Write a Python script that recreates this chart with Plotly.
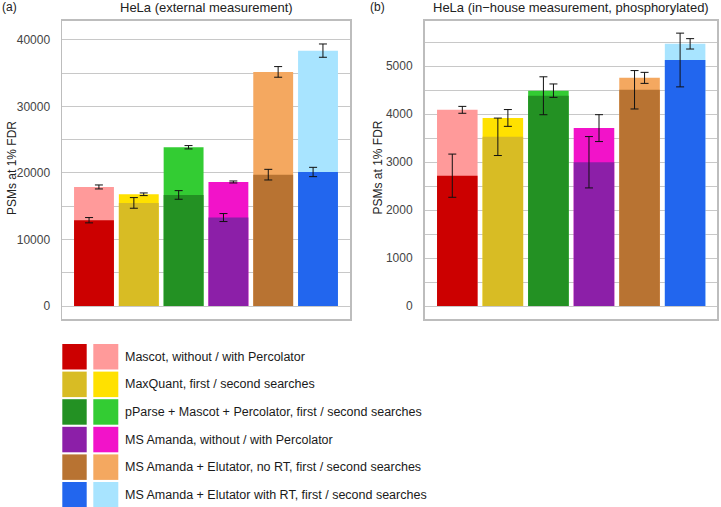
import plotly.graph_objects as go

W, H = 721, 507

methods = ["Mascot", "MaxQuant", "pParse", "MS Amanda", "Elutator noRT", "Elutator RT"]
legend_labels = [
    "Mascot, without / with Percolator",
    "MaxQuant, first / second searches",
    "pParse + Mascot + Percolator, first / second searches",
    "MS Amanda, without / with Percolator",
    "MS Amanda + Elutator, no RT, first / second searches",
    "MS Amanda + Elutator with RT, first / second searches",
]
dark_colors = ["#CC0000", "#D8BC24", "#239123", "#8C1FA8", "#B87332", "#2266EE"]
light_colors = ["#FF9A9A", "#FFE100", "#33CC33", "#F213C9", "#F4A860", "#A8E4FF"]

# Panel (a): HeLa external measurement
a_first = [12900, 15500, 16700, 13300, 19750, 20150]
a_first_err = [400, 800, 650, 600, 800, 700]
a_second = [17900, 16800, 23870, 18650, 35200, 38400]
a_second_err = [300, 200, 250, 150, 800, 1000]

# Panel (b): HeLa in-house, phosphorylated
b_first = [2715, 3525, 4380, 2995, 4505, 5125]
b_first_err = [450, 390, 395, 535, 400, 560]
b_second = [4087, 3918, 4486, 3706, 4753, 5462]
b_second_err = [72, 175, 140, 280, 115, 108]

a_ticks = [0, 10000, 20000, 30000, 40000]
b_ticks = [0, 1000, 2000, 3000, 4000, 5000]

titles = ["HeLa (external measurement)", "HeLa (in\u2212house measurement, phosphorylated)"]
panel_tags = ["(a)", "(b)"]
yaxis_title = "PSMs at 1% FDR"

fig = go.Figure()
xs = list(range(len(methods)))
off = 0.11
bw = 0.89

panels = [
    (a_first, a_first_err, a_second, a_second_err, "x", "y"),
    (b_first, b_first_err, b_second, b_second_err, "x2", "y2"),
]
for first, ferr, second, serr, xa, ya in panels:
    fig.add_trace(go.Bar(x=xs, y=second, width=bw, marker=dict(color=light_colors, line=dict(width=0)),
                         xaxis=xa, yaxis=ya, showlegend=False, hoverinfo="skip"))
    fig.add_trace(go.Bar(x=xs, y=first, width=bw, marker=dict(color=dark_colors, line=dict(width=0)),
                         xaxis=xa, yaxis=ya, showlegend=False, hoverinfo="skip"))
    fig.add_trace(go.Scatter(x=[v - off for v in xs], y=first, mode="markers",
                             marker=dict(size=0.1, color="rgba(0,0,0,0)"),
                             error_y=dict(type="data", array=ferr, color="#111111", thickness=1, width=4),
                             xaxis=xa, yaxis=ya, showlegend=False, hoverinfo="skip"))
    fig.add_trace(go.Scatter(x=[v + off for v in xs], y=second, mode="markers",
                             marker=dict(size=0.1, color="rgba(0,0,0,0)"),
                             error_y=dict(type="data", array=serr, color="#111111", thickness=1, width=4),
                             xaxis=xa, yaxis=ya, showlegend=False, hoverinfo="skip"))

frame_col = "#BDBDBD"
grid_col = "#C8C8C8"
tick_font = dict(family="Liberation Sans, Arial, sans-serif", size=12, color="#444444")

xcommon = dict(showticklabels=False, showgrid=False, zeroline=False, showline=True, mirror=True,
               linecolor=frame_col, linewidth=1.5, ticks="", fixedrange=True, automargin=False)
ycommon = dict(showgrid=True, gridcolor=grid_col, gridwidth=1, zeroline=False, showline=True, mirror=True,
               linecolor=frame_col, linewidth=1.5, ticks="", tickfont=tick_font, ticklabelstandoff=8,
               tickformat="d", automargin=False)

y0 = 1 - 319.3 / H
y1 = 1 - 20.7 / H
fig.update_layout(
    width=W, height=H, margin=dict(l=0, r=0, t=0, b=0, autoexpand=False),
    paper_bgcolor="white", plot_bgcolor="white", barmode="overlay",
    xaxis=dict(domain=[62 / W, 350 / W], range=[-0.714, 5.714], anchor="y", **xcommon),
    xaxis2=dict(domain=[424.5 / W, 717 / W], range=[-0.72, 5.70], anchor="y2", **xcommon),
    yaxis=dict(domain=[y0, y1], range=[-2000, 42900], tickvals=a_ticks, anchor="x",
               minor=dict(dtick=5000, tick0=0, showgrid=True, gridcolor=grid_col, gridwidth=1), **ycommon),
    yaxis2=dict(domain=[y0, y1], range=[-277, 5944], tickvals=b_ticks, anchor="x2",
                minor=dict(dtick=500, tick0=0, showgrid=True, gridcolor=grid_col, gridwidth=1), **ycommon),
    font=dict(family="Liberation Sans, Arial, sans-serif", size=12, color="#222222"),
)

txt_font = dict(family="Liberation Sans, Arial, sans-serif", size=12, color="#222222")
title_font = dict(family="Liberation Sans, Arial, sans-serif", size=13, color="#222222")
ann = []
ann.append(dict(x=206 / W, y=1 - 8 / H, xref="paper", yref="paper", text=titles[0], showarrow=False,
                xanchor="center", yanchor="middle", font=title_font))
ann.append(dict(x=571 / W, y=1 - 8 / H, xref="paper", yref="paper", text=titles[1], showarrow=False,
                xanchor="center", yanchor="middle", font=title_font))
ann.append(dict(x=0 / W, y=1 - 7 / H, xref="paper", yref="paper", text=panel_tags[0], showarrow=False,
                xanchor="left", yanchor="middle", font=txt_font))
ann.append(dict(x=368 / W, y=1 - 7 / H, xref="paper", yref="paper", text=panel_tags[1], showarrow=False,
                xanchor="left", yanchor="middle", font=txt_font))
for xp in (12, 377.5):
    ann.append(dict(x=xp / W, y=1 - 168 / H, xref="paper", yref="paper", text=yaxis_title, showarrow=False,
                    textangle=-90, xanchor="center", yanchor="middle", font=txt_font))

shapes = []
row_top0, pitch, sh = 344, 27.6, 25.5
for i, lab in enumerate(legend_labels):
    top = row_top0 + pitch * i
    bot = top + sh
    shapes.append(dict(type="rect", xref="paper", yref="paper", x0=62.3 / W, x1=86.7 / W,
                       y0=1 - bot / H, y1=1 - top / H, fillcolor=dark_colors[i], line=dict(width=0)))
    shapes.append(dict(type="rect", xref="paper", yref="paper", x0=93.3 / W, x1=118.3 / W,
                       y0=1 - bot / H, y1=1 - top / H, fillcolor=light_colors[i], line=dict(width=0)))
    ann.append(dict(x=122.5 / W, y=1 - (top + sh / 2) / H, xref="paper", yref="paper", text=lab,
                    showarrow=False, xanchor="left", yanchor="middle",
                    font=dict(family="Liberation Sans, Arial, sans-serif", size=12.5, color="#1a1a1a")))

fig.update_layout(annotations=ann, shapes=shapes)
fig.write_html("out.html", config={"displayModeBar": False, "staticPlot": True},
               post_script="document.body.style.margin='0';document.body.style.padding='0';"
                           "document.body.style.overflow='hidden';")
